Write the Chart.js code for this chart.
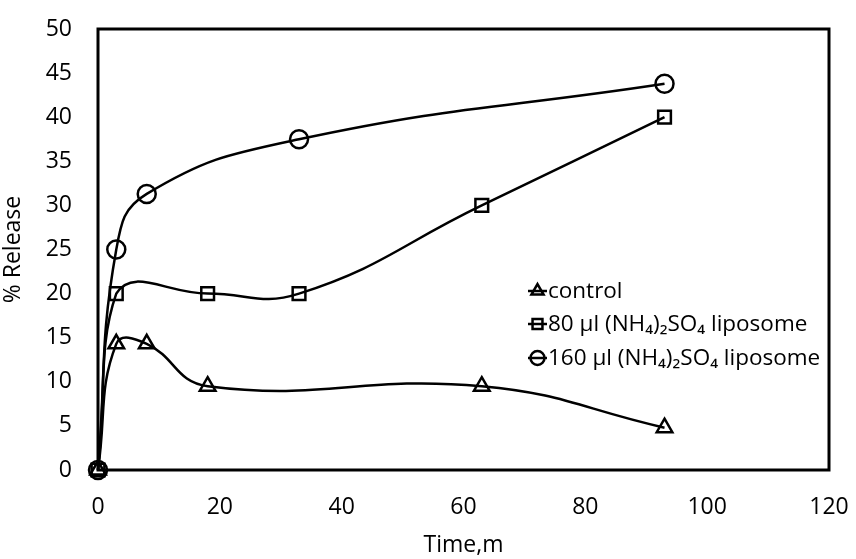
<!DOCTYPE html>
<html>
<head>
<meta charset="utf-8">
<script src="https://cdn.jsdelivr.net/npm/chart.js@4"></script>
<style>
  html, body { margin: 0; padding: 0; background: #fff; }
  #wrap { width: 856px; height: 559px; }
</style>
</head>
<body>
<div id="wrap"><canvas id="chart" width="856" height="559"></canvas></div>
<script>
// data
const controlX = [0, 3, 8, 18, 63, 93];
const controlY = [0, 14.3, 14.3, 9.5, 9.5, 4.8];
const lipo80X = [0, 3, 18, 33, 63, 93];
const lipo80Y = [0, 20, 20, 20, 30, 40];
const lipo160X = [0, 3, 8, 33, 93];
const lipo160Y = [0, 25, 31.3, 37.5, 43.8];
const seriesLabels = ['control', '80 µl (NH₄)₂SO₄ liposome', '160 µl (NH₄)₂SO₄ liposome'];
const xTicks = [0, 20, 40, 60, 80, 100, 120];
const yTicks = [0, 5, 10, 15, 20, 25, 30, 35, 40, 45, 50];

const FONT = 'Open Sans';
const pts = (xs, ys) => xs.map((x, i) => ({ x, y: ys[i] }));

function series(label, data, style) {
  return {
    label, data,
    pointStyle: style,
    borderColor: '#000',
    backgroundColor: 'rgba(255,255,255,0)',
    borderWidth: 2.5,
    pointBorderWidth: 2.5,
    pointRadius: 9,
    tension: 0.45,
    clip: false,
  };
}

// frame around plot area + legend inside it
const frameLegend = {
  id: 'frameLegend',
  afterDraw(chart) {
    const { ctx, chartArea: a } = chart;
    ctx.save();
    ctx.strokeStyle = '#000';
    ctx.lineWidth = 3;
    ctx.strokeRect(a.left, a.top, a.right - a.left, a.bottom - a.top);

    const rows = [291, 324, 358];
    ctx.font = `22.5px "${FONT}"`;
    ctx.textBaseline = 'middle';
    chart.data.datasets.forEach((ds, i) => {
      const y = rows[i];
      ctx.lineWidth = 2.5;
      ctx.beginPath();
      ctx.moveTo(528, y);
      ctx.lineTo(547, y);
      ctx.stroke();
      ctx.fillStyle = 'rgba(255,255,255,0)';
      Chart.helpers.drawPoint(ctx, {
        pointStyle: ds.pointStyle, radius: 7, borderWidth: 2.5
      }, 537.5, y);
      ctx.fillStyle = '#000';
      ctx.fillText(ds.label, 548, y + 1);
    });
    ctx.restore();
  }
};

new Chart(document.getElementById('chart'), {
  type: 'line',
  data: {
    datasets: [
      series(seriesLabels[0], pts(controlX, controlY), 'triangle'),
      series(seriesLabels[1], pts(lipo80X, lipo80Y), 'rect'),
      series(seriesLabels[2], pts(lipo160X, lipo160Y), 'circle'),
    ],
  },
  options: {
    responsive: false,
    animation: false,
    layout: { padding: { top: 29, right: 27, left: 0, bottom: 0 } },
    plugins: {
      legend: { display: false },
      tooltip: { enabled: false },
    },
    scales: {
      x: {
        type: 'linear',
        min: 0, max: 120,
        afterBuildTicks: (s) => { s.ticks = xTicks.map(v => ({ value: v })); },
        afterFit: (s) => { s.height = 89; s.paddingLeft = 0; s.paddingRight = 0; },
        grid: { display: false, drawTicks: false },
        border: { display: false },
        ticks: { color: '#000', padding: 24, maxRotation: 0, font: { family: FONT, size: 23 } },
        title: {
          display: true, text: 'Time,m', color: '#000',
          font: { family: FONT, size: 23 }, padding: { top: 0, bottom: 0 },
        },
      },
      y: {
        type: 'linear',
        min: 0, max: 50,
        afterBuildTicks: (s) => { s.ticks = yTicks.map(v => ({ value: v })); },
        afterFit: (s) => { s.width = 98; s.paddingTop = 0; s.paddingBottom = 0; },
        grid: { display: false, drawTicks: false },
        border: { display: false },
        ticks: { color: '#000', padding: 26, font: { family: FONT, size: 23 } },
        title: {
          display: true, text: '% Release', color: '#000',
          font: { family: FONT, size: 23 }, padding: { top: 0, bottom: 0 },
        },
      },
    },
  },
  plugins: [frameLegend],
});
</script>
</body>
</html>
